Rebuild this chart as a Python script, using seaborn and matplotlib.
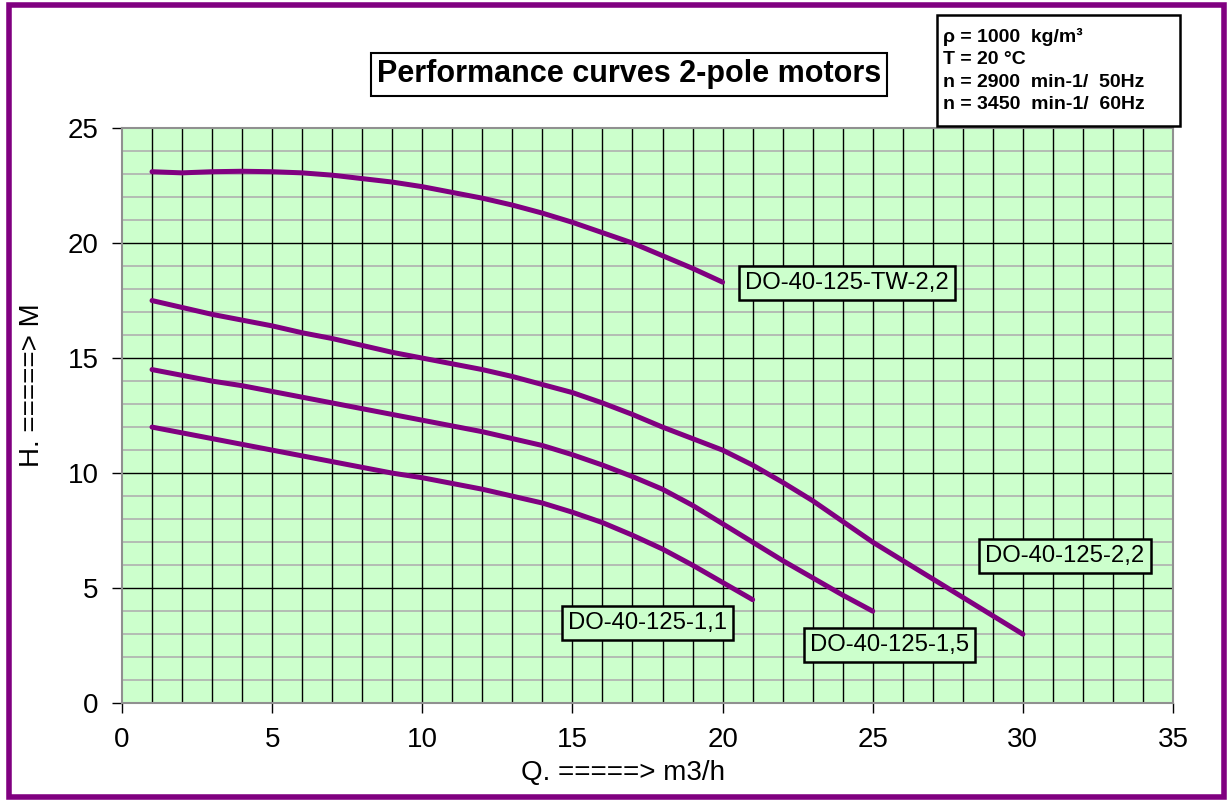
import pandas as pd
import matplotlib.pyplot as plt
import seaborn as sns
from matplotlib.patches import Rectangle
from matplotlib.ticker import MultipleLocator

# Data kurva pompa (Q m3/h -> H m)
q_tw22 = list(range(1, 21))
h_tw22 = [23.1, 23.05, 23.1, 23.12, 23.1, 23.05, 22.95, 22.8, 22.65, 22.45,
          22.2, 21.95, 21.65, 21.3, 20.9, 20.45, 20.0, 19.45, 18.9, 18.3]

q_22 = list(range(1, 31))
h_22 = [17.5, 17.2, 16.9, 16.65, 16.4, 16.1, 15.85, 15.55, 15.25, 15.0,
        14.75, 14.5, 14.2, 13.85, 13.5, 13.05, 12.55, 12.0, 11.5, 11.0,
        10.35, 9.6, 8.8, 7.9, 7.0, 6.2, 5.4, 4.6, 3.8, 3.0]

q_15 = list(range(1, 26))
h_15 = [14.5, 14.25, 14.0, 13.8, 13.55, 13.3, 13.05, 12.8, 12.55, 12.3,
        12.05, 11.8, 11.5, 11.2, 10.8, 10.35, 9.85, 9.3, 8.6, 7.8,
        7.0, 6.2, 5.45, 4.7, 4.0]

q_11 = list(range(1, 22))
h_11 = [12.0, 11.75, 11.5, 11.25, 11.0, 10.75, 10.5, 10.25, 10.0, 9.8,
        9.55, 9.3, 9.0, 8.7, 8.3, 7.85, 7.3, 6.7, 6.0, 5.25, 4.5]

names = ['DO-40-125-TW-2,2', 'DO-40-125-2,2', 'DO-40-125-1,5', 'DO-40-125-1,1']
label_x = [20.75, 28.75, 22.9, 14.85]
label_y = [18.25, 6.4, 2.55, 3.5]

info_lines = ['ρ = 1000  kg/m³', 'T = 20 °C', 'n = 2900  min-1/  50Hz', 'n = 3450  min-1/  60Hz']

frames = []
for name, q, h in zip(names, [q_tw22, q_22, q_15, q_11], [h_tw22, h_22, h_15, h_11]):
    frames.append(pd.DataFrame({'Q': q, 'H': h, 'pump': name}))
data = pd.concat(frames, ignore_index=True)

sns.set_style('white')
plt.rcParams['font.family'] = ['Liberation Sans', 'DejaVu Sans']
plt.rcParams['text.color'] = 'black'

fig = plt.figure(figsize=(12.31, 8), dpi=100)
ax = fig.add_axes([0.0991, 0.121, 0.8538, 0.719])
ax.set_facecolor('#CCFFCC')

# Grid
for x in range(1, 35):
    ax.axvline(x, color='black', lw=1.0, zorder=1)
for y in range(1, 25):
    if y % 5 == 0:
        ax.axhline(y, color='black', lw=1.0, zorder=1)
    else:
        ax.axhline(y, color='#B0B0B0', lw=1.2, zorder=0.9)

sns.lineplot(data=data, x='Q', y='H', units='pump', estimator=None, sort=False,
             color='#800080', lw=3.6, ax=ax, zorder=3)

ax.set_xlim(0, 35)
ax.set_ylim(0, 25)
ax.xaxis.set_major_locator(MultipleLocator(5))
ax.yaxis.set_major_locator(MultipleLocator(5))
ax.tick_params(axis='both', labelsize=20, length=7, width=1, color='black',
               labelcolor='black', direction='out', bottom=True, left=True, pad=10)
for s in ax.spines.values():
    s.set_color('#909090')
    s.set_linewidth(1.5)

ax.set_xlabel('')
ax.set_ylabel('')
fig.text(0.506, 0.034, 'Q. =====> m3/h', fontsize=20, ha='center', va='center')
fig.text(0.026, 0.518, 'H. =====> M', fontsize=20, ha='center', va='center', rotation=90)

# Label kurva
for name, lx, ly in zip(names, label_x, label_y):
    ax.text(lx, ly, name, fontsize=17.2, va='center', ha='left', zorder=5,
            bbox=dict(boxstyle='square,pad=0.25', fc='#CCFFCC', ec='black', lw=1.8))

# Judul
fig.text(0.511, 0.907, 'Performance curves 2-pole motors', fontsize=22, weight='bold',
         ha='center', va='center',
         bbox=dict(boxstyle='square,pad=0.2', fc='white', ec='black', lw=1.5))

# Info
fig.patches.append(Rectangle((0.7612, 0.8425), 0.1974, 0.139, transform=fig.transFigure,
                             fc='white', ec='black', lw=1.8, zorder=5))
fig.text(0.766, 0.912, '\n'.join(info_lines), fontsize=14, weight='bold',
         ha='left', va='center', linespacing=1.4, zorder=6)

# Bingkai ungu
fig.patches.append(Rectangle((0.0075, 0.004), 0.987, 0.99, transform=fig.transFigure,
                             fill=False, ec='#800080', lw=4))

fig.savefig('out.png', dpi=100)
